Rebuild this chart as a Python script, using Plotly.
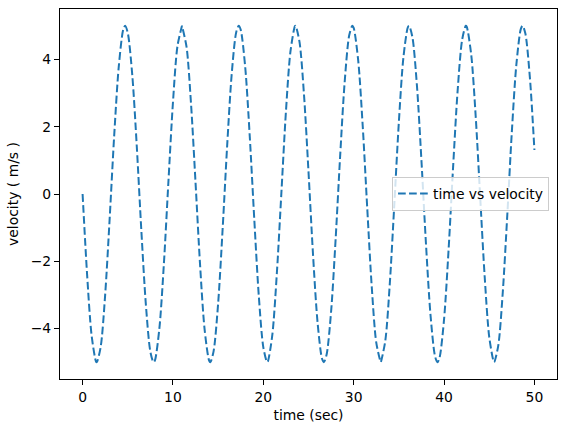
import plotly.graph_objects as go

time_sec = [i * 0.5 for i in range(101)]
velocity = [
    0.00, -2.40, -4.21, -4.99, -4.55, -2.99, -0.71, 1.75, 3.78, 4.89,
    4.79, 3.53, 1.40, -1.08, -3.28, -4.69, -4.95, -3.99, -2.06, 0.38,
    2.72, 4.40, 5.00, 4.38, 2.68, 0.33, -2.10, -4.02, -4.95, -4.67,
    -3.25, -1.03, 1.44, 3.56, 4.81, 4.88, 3.76, 1.71, -0.75, -3.03,
    -4.56, -4.98, -4.18, -2.35, 0.04, 2.44, 4.23, 4.99, 4.53, 2.96,
    0.66, -1.80, -3.81, -4.90, -4.78, -3.50, -1.35, 1.12, 3.32, 4.71,
    4.94, 3.97, 2.02, -0.42, -2.76, -4.42, -5.00, -4.36, -2.65, -0.29,
    2.14, 4.05, 4.96, 4.66, 3.22, 0.99, -1.48, -3.59, -4.82, -4.87,
    -3.73, -1.67, 0.79, 3.06, 4.58, 4.98, 4.16, 2.32, -0.09, -2.47,
    -4.25, -4.99, -4.51, -2.92, -0.62, 1.84, 3.84, 4.91, 4.77, 3.46,
    1.31,
]
# peaks and troughs
extrema_time = [1.57, 4.71, 7.85, 11.00, 14.14, 17.28, 20.42, 23.56,
                26.70, 29.85, 32.99, 36.13, 39.27, 42.41, 45.55, 48.69]
extrema_velocity = [-5.0, 5.0, -5.0, 5.0, -5.0, 5.0, -5.0, 5.0,
                    -5.0, 5.0, -5.0, 5.0, -5.0, 5.0, -5.0, 5.0]

x_ticks = [0, 10, 20, 30, 40, 50]
y_ticks = [-4, -2, 0, 2, 4]

pts = sorted(list(zip(time_sec, velocity)) + list(zip(extrema_time, extrema_velocity)))
xs = [p[0] for p in pts]
ys = [p[1] for p in pts]

FS = 13.9
fig = go.Figure()
fig.add_trace(go.Scatter(
    x=xs, y=ys, mode="lines", name="time vs velocity",
    line=dict(color="#1f77b4", width=2.0, dash="7.7px,3.3px", shape="spline", smoothing=0.8),
))

axis_common = dict(
    showline=True, linecolor="black", linewidth=1.1, mirror=True,
    showgrid=False, zeroline=False, ticks="outside", ticklen=5,
    tickcolor="black", tickwidth=1.1,
    tickfont=dict(family="DejaVu Sans", size=FS, color="black"),
)
fig.update_xaxes(range=[-2.5, 52.5], tickvals=x_ticks,
                 title=dict(text="time (sec)", font=dict(family="DejaVu Sans", size=FS, color="black"), standoff=6),
                 **axis_common)
fig.update_yaxes(range=[-5.5, 5.5], tickvals=y_ticks,
                 title=dict(text="velocity ( m/s )", font=dict(family="DejaVu Sans", size=FS, color="black"), standoff=8),
                 **axis_common)

fig.update_layout(
    width=565, height=432,
    margin=dict(l=60, r=8, t=9, b=53),
    paper_bgcolor="white", plot_bgcolor="white",
    showlegend=True,
    legend=dict(x=0.984, y=0.5, xanchor="right", yanchor="middle",
                bgcolor="rgba(255,255,255,0.8)", bordercolor="#cccccc", borderwidth=1,
                font=dict(family="DejaVu Sans", size=FS, color="black"),
                itemwidth=30),
    font=dict(family="DejaVu Sans"),
)

fig.write_html("out.html")
